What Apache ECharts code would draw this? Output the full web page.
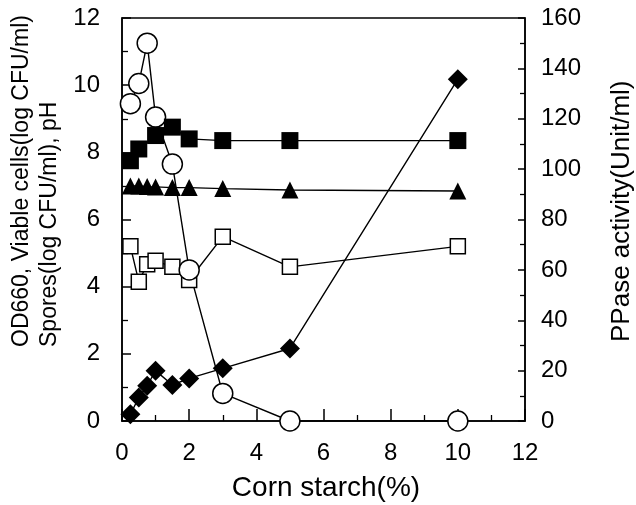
<!DOCTYPE html>
<html>
<head>
<meta charset="utf-8">
<script src="https://cdn.jsdelivr.net/npm/echarts@6/dist/echarts.min.js"></script>
<style>
  html, body { margin: 0; padding: 0; background: #fff; }
  #chart { width: 636px; height: 505px; }
</style>
</head>
<body>
<div id="chart"></div>
<script>
// corn starch (%) and readings
const odX = [0.25, 0.5, 0.75, 1, 1.5, 2, 3, 5, 10];
const odY = [9.45, 10.05, 11.25, 9.05, 7.65, 4.5, 0.82, 0, 0];

const viableX = [0.25, 0.5, 1, 1.5, 2, 3, 5, 10];
const viableY = [7.75, 8.1, 8.5, 8.75, 8.4, 8.35, 8.35, 8.35];

const phX = [0.25, 0.5, 0.75, 1, 1.5, 2, 3, 5, 10];
const phY = [7.0, 7.0, 6.98, 6.97, 6.95, 6.95, 6.92, 6.88, 6.85];

const sporesX = [0.25, 0.5, 0.75, 1, 1.5, 2, 3, 5, 10];
const sporesY = [5.2, 4.15, 4.67, 4.77, 4.59, 4.2, 5.49, 4.59, 5.2];

const ppaseX = [0.25, 0.5, 0.75, 1, 1.5, 2, 3, 5, 10];
const ppaseY = [2.7, 9.3, 14, 20, 14.3, 16.9, 20.9, 28.8, 135.7];

const xTitle = 'Corn starch(%)';
const leftTitle = 'OD660, Viable cells(log CFU/ml)\nSpores(log CFU/ml), pH';
const rightTitle = 'PPase activity(Unit/ml)';

const font = 'Liberation Sans';

function pairs(xs, ys) {
  return xs.map((x, i) => [x, ys[i]]);
}

function makeSeries(name, xs, ys, symbol, size, filled, yAxisIndex) {
  return {
    name: name,
    type: 'line',
    yAxisIndex: yAxisIndex || 0,
    data: pairs(xs, ys),
    symbol: symbol,
    symbolSize: size,
    showAllSymbol: true,
    lineStyle: {color: '#000', width: 1.4},
    itemStyle: {
      color: filled ? '#000' : '#fff',
      borderColor: '#000',
      borderWidth: filled ? 0 : 1.5
    },
    emphasis: {disabled: true},
    animation: false
  };
}

function axis(extra, tickLen, minorLen) {
  return Object.assign({
    type: 'value',
    axisLine: {show: true, lineStyle: {color: '#000', width: 1.5}},
    axisTick: {show: true, inside: true, length: tickLen, lineStyle: {color: '#000', width: 1.5}},
    minorTick: {show: true, splitNumber: 2, length: minorLen, lineStyle: {color: '#000', width: 1.3}},
    splitLine: {show: false},
    axisLabel: {color: '#000', fontSize: 24, fontFamily: font}
  }, extra);
}

function title(text, x, y, size, rotate, align) {
  return {
    type: 'text',
    x: x,
    y: y,
    rotation: rotate ? Math.PI / 2 : 0,
    style: {
      text: text,
      fill: '#000',
      fontSize: size,
      fontFamily: font,
      lineHeight: 28,
      align: align,
      verticalAlign: 'middle'
    }
  };
}

const chart = echarts.init(document.getElementById('chart'));

const option = {
  backgroundColor: '#fff',
  animation: false,
  grid: {
    left: 122, right: 111, top: 18, bottom: 84,
    show: true, borderColor: '#000', borderWidth: 1.5
  },
  xAxis: axis({
    min: 0, max: 12, interval: 2,
    axisLabel: {color: '#000', fontSize: 24, fontFamily: font, margin: 20}
  }, 12, 6),
  yAxis: [
    axis({
      position: 'left',
      min: 0, max: 12, interval: 2,
      axisLabel: {color: '#000', fontSize: 24, fontFamily: font, margin: 22}
    }, 9, 6),
    axis({
      position: 'right',
      min: 0, max: 160, interval: 20,
      axisLabel: {color: '#000', fontSize: 24, fontFamily: font, margin: 16}
    }, 7, 5)
  ],
  graphic: [
    title(xTitle, 326, 488, 28, false, 'center'),
    title(leftTitle, 36, 347, 23, true, 'left'),
    title(rightTitle, 622, 342, 26, true, 'left')
  ],
  series: [
    makeSeries('Spores', sporesX, sporesY, 'rect', 15, false),
    makeSeries('OD660', odX, odY, 'circle', 20, false),
    makeSeries('Viable cells', viableX, viableY, 'rect', 17, true),
    makeSeries('pH', phX, phY, 'triangle', 17, true),
    makeSeries('PPase', ppaseX, ppaseY, 'diamond', 20, true, 1)
  ]
};

chart.setOption(option);
</script>
</body>
</html>
